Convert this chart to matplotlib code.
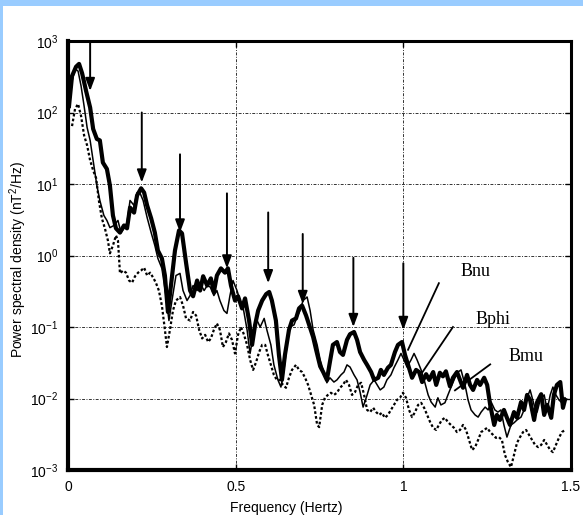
import matplotlib
matplotlib.use("Agg")
import matplotlib.pyplot as plt
import numpy as np
from matplotlib.patches import Rectangle
from matplotlib.ticker import FixedLocator, NullLocator, LogFormatterMathtext

plt.rcParams["font.family"] = ["Liberation Sans", "DejaVu Sans"]
plt.rcParams["mathtext.fontset"] = "custom"
plt.rcParams["mathtext.rm"] = "Liberation Sans"
plt.rcParams["mathtext.it"] = "Liberation Sans:italic"

# frequency (Hz) and log10 of power spectral density (nT^2/Hz)
bnu_freq = [0.003, 0.012, 0.024, 0.033, 0.042, 0.054, 0.066, 0.075, 0.086, 0.095,
            0.104, 0.116, 0.125, 0.134, 0.143, 0.155, 0.167, 0.176, 0.185, 0.197,
            0.206, 0.218, 0.227, 0.236, 0.248, 0.259, 0.268, 0.280, 0.289, 0.298,
            0.307, 0.319, 0.331, 0.340, 0.352, 0.364, 0.373, 0.385, 0.394, 0.403,
            0.415, 0.426, 0.435, 0.444, 0.456, 0.468, 0.477, 0.486, 0.498, 0.507,
            0.519, 0.528, 0.540, 0.549, 0.558, 0.567, 0.579, 0.591, 0.600, 0.608,
            0.620, 0.629, 0.638, 0.647, 0.659, 0.668, 0.680, 0.689, 0.698, 0.710,
            0.719, 0.731, 0.740, 0.752, 0.761, 0.772, 0.781, 0.790, 0.802, 0.811,
            0.820, 0.832, 0.841, 0.853, 0.862, 0.871, 0.883, 0.892, 0.904, 0.913,
            0.925, 0.933, 0.942, 0.954, 0.963, 0.975, 0.984, 0.996, 1.005, 1.017,
            1.026, 1.038, 1.047, 1.056, 1.068, 1.077, 1.089, 1.098, 1.109, 1.118,
            1.127, 1.139, 1.148, 1.160, 1.169, 1.178, 1.190, 1.199, 1.208, 1.220,
            1.229, 1.241, 1.250, 1.259, 1.271, 1.279, 1.288, 1.300, 1.309, 1.318,
            1.330, 1.339, 1.351, 1.360, 1.369, 1.378, 1.390, 1.399, 1.411, 1.420,
            1.429, 1.441, 1.449, 1.458, 1.468, 1.476, 1.482]
bnu_log = [2.09, 2.51, 2.64, 2.68, 2.55, 2.30, 2.07, 1.77, 1.63, 1.61,
           1.30, 1.21, 0.98, 0.56, 0.38, 0.32, 0.42, 0.38, 0.67, 0.60,
           0.84, 0.94, 0.88, 0.70, 0.52, 0.32, 0.07, -0.04, -0.28, -0.79,
           -0.42, 0.07, 0.35, 0.31, -0.10, -0.49, -0.57, -0.35, -0.49, -0.29,
           -0.42, -0.32, -0.51, -0.28, -0.18, -0.24, -0.18, -0.42, -0.63, -0.57,
           -0.74, -0.60, -0.91, -1.25, -0.97, -0.77, -0.63, -0.54, -0.51, -0.63,
           -0.91, -1.39, -1.74, -1.39, -1.04, -0.91, -0.88, -0.74, -0.70, -0.84,
           -0.97, -1.14, -1.32, -1.55, -1.63, -1.74, -1.49, -1.25, -1.21, -1.35,
           -1.39, -1.18, -1.10, -1.07, -1.18, -1.35, -1.46, -1.53, -1.63, -1.74,
           -1.71, -1.60, -1.67, -1.57, -1.53, -1.35, -1.25, -1.21, -1.39, -1.57,
           -1.71, -1.60, -1.63, -1.77, -1.66, -1.74, -1.63, -1.81, -1.64, -1.69,
           -1.62, -1.83, -1.71, -1.63, -1.74, -1.85, -1.67, -1.81, -1.88, -1.74,
           -1.81, -1.71, -1.81, -2.09, -2.37, -2.23, -2.30, -2.16, -2.27, -2.37,
           -2.19, -2.27, -2.05, -2.16, -1.95, -2.02, -2.30, -2.05, -1.94, -2.23,
           -2.09, -2.27, -1.95, -1.81, -1.77, -2.13, -2.02]

bphi_freq = [0.003, 0.012, 0.021, 0.030, 0.039, 0.048, 0.057, 0.066, 0.075, 0.086,
             0.095, 0.107, 0.116, 0.125, 0.137, 0.149, 0.158, 0.167, 0.176, 0.185,
             0.197, 0.206, 0.215, 0.224, 0.236, 0.248, 0.259, 0.268, 0.280, 0.292,
             0.301, 0.310, 0.322, 0.334, 0.343, 0.355, 0.364, 0.373, 0.385, 0.394,
             0.406, 0.415, 0.424, 0.435, 0.444, 0.453, 0.465, 0.474, 0.483, 0.492,
             0.504, 0.513, 0.522, 0.534, 0.543, 0.555, 0.564, 0.573, 0.585, 0.593,
             0.605, 0.614, 0.626, 0.635, 0.644, 0.653, 0.662, 0.674, 0.683, 0.692,
             0.701, 0.713, 0.722, 0.731, 0.743, 0.752, 0.761, 0.772, 0.781, 0.793,
             0.802, 0.814, 0.823, 0.832, 0.841, 0.853, 0.862, 0.871, 0.880, 0.892,
             0.901, 0.913, 0.922, 0.931, 0.942, 0.951, 0.963, 0.972, 0.984, 0.993,
             1.002, 1.011, 1.023, 1.032, 1.041, 1.053, 1.062, 1.074, 1.083, 1.095,
             1.103, 1.112, 1.124, 1.133, 1.145, 1.154, 1.163, 1.172, 1.184, 1.193,
             1.202, 1.214, 1.223, 1.232, 1.244, 1.253, 1.262, 1.273, 1.282, 1.291,
             1.300, 1.309, 1.321, 1.330, 1.339, 1.351, 1.360, 1.369, 1.378, 1.390,
             1.399, 1.408, 1.420, 1.429, 1.438, 1.446, 1.455, 1.464, 1.473, 1.482]
bphi_log = [2.02, 2.44, 2.61, 2.58, 2.37, 2.09, 1.79, 1.61, 1.33, 0.98,
            0.77, 0.56, 0.49, 0.39, 0.42, 0.49, 0.32, 0.38, 0.46, 0.77,
            0.70, 0.88, 0.87, 0.77, 0.53, 0.32, 0.14, -0.04, -0.18, -0.56,
            -0.91, -0.63, -0.28, -0.25, -0.49, -0.63, -0.56, -0.42, -0.49, -0.39,
            -0.49, -0.42, -0.44, -0.56, -0.49, -0.63, -0.77, -0.81, -0.56, -0.35,
            -0.49, -0.63, -0.72, -1.04, -1.37, -1.04, -0.91, -1.00, -0.88, -1.04,
            -1.25, -1.53, -1.74, -1.84, -1.60, -1.25, -1.00, -0.97, -0.86, -0.77,
            -0.63, -0.58, -0.77, -1.04, -1.25, -1.46, -1.60, -1.78, -1.71, -1.77,
            -1.74, -1.67, -1.63, -1.53, -1.56, -1.67, -1.74, -1.91, -2.12, -1.95,
            -1.81, -1.74, -1.81, -1.88, -1.84, -1.74, -1.67, -1.57, -1.46, -1.37,
            -1.46, -1.56, -1.46, -1.37, -1.46, -1.60, -1.74, -1.95, -2.05, -2.12,
            -1.99, -2.09, -2.06, -1.95, -1.81, -1.71, -1.63, -1.60, -1.81, -2.02,
            -2.16, -2.23, -2.26, -2.19, -2.12, -2.16, -2.05, -2.16, -2.19, -2.16,
            -2.37, -2.54, -2.37, -2.34, -2.30, -2.26, -2.16, -1.99, -1.88, -2.09,
            -2.19, -2.02, -1.95, -2.16, -1.95, -1.84, -1.95, -2.02, -2.06, -1.99]

bmu_freq = [0.012, 0.021, 0.030, 0.039, 0.048, 0.057, 0.066, 0.075, 0.084, 0.092,
            0.101, 0.110, 0.119, 0.125, 0.134, 0.143, 0.149, 0.155, 0.164, 0.173,
            0.182, 0.191, 0.200, 0.209, 0.218, 0.227, 0.236, 0.245, 0.254, 0.262,
            0.271, 0.280, 0.289, 0.295, 0.304, 0.313, 0.322, 0.334, 0.343, 0.352,
            0.364, 0.373, 0.382, 0.391, 0.400, 0.409, 0.418, 0.426, 0.435, 0.444,
            0.453, 0.462, 0.471, 0.480, 0.489, 0.498, 0.507, 0.516, 0.525, 0.534,
            0.543, 0.552, 0.561, 0.570, 0.579, 0.588, 0.596, 0.605, 0.614, 0.623,
            0.632, 0.641, 0.650, 0.659, 0.668, 0.680, 0.689, 0.698, 0.707, 0.716,
            0.725, 0.734, 0.743, 0.749, 0.758, 0.766, 0.775, 0.784, 0.793, 0.802,
            0.811, 0.820, 0.829, 0.838, 0.847, 0.856, 0.865, 0.874, 0.883, 0.892,
            0.901, 0.910, 0.919, 0.928, 0.936, 0.945, 0.954, 0.963, 0.972, 0.981,
            0.990, 0.999, 1.008, 1.017, 1.026, 1.035, 1.044, 1.053, 1.062, 1.071,
            1.080, 1.089, 1.098, 1.106, 1.115, 1.124, 1.133, 1.142, 1.151, 1.160,
            1.169, 1.178, 1.187, 1.196, 1.205, 1.214, 1.223, 1.232, 1.241, 1.250,
            1.259, 1.268, 1.276, 1.285, 1.294, 1.303, 1.312, 1.321, 1.330, 1.339,
            1.348, 1.357, 1.366, 1.375, 1.384, 1.393, 1.402, 1.411, 1.420, 1.429,
            1.438, 1.446, 1.455, 1.464, 1.473, 1.482]
bmu_log = [1.81, 2.05, 2.12, 1.95, 1.68, 1.54, 1.33, 1.19, 1.08, 0.77,
           0.52, 0.38, 0.21, 0.03, 0.14, 0.28, 0.21, -0.25, -0.21, -0.24,
           -0.35, -0.38, -0.29, -0.24, -0.21, -0.17, -0.28, -0.24, -0.31, -0.38,
           -0.49, -0.70, -1.04, -1.28, -1.04, -0.77, -0.63, -0.58, -0.70, -0.88,
           -0.91, -0.79, -0.84, -1.04, -1.16, -1.11, -1.21, -1.16, -1.04, -0.95,
           -1.04, -1.28, -1.21, -1.09, -1.18, -1.37, -1.11, -1.00, -1.11, -1.25,
           -1.46, -1.60, -1.49, -1.35, -1.25, -1.25, -1.39, -1.53, -1.67, -1.74,
           -1.74, -1.81, -1.85, -1.71, -1.60, -1.53, -1.60, -1.63, -1.71, -1.81,
           -1.95, -2.09, -2.37, -2.40, -2.09, -1.99, -1.95, -1.92, -1.95, -1.92,
           -1.85, -1.81, -1.74, -1.81, -1.95, -1.91, -1.81, -1.78, -1.95, -2.16,
           -2.19, -2.13, -2.19, -2.23, -2.20, -2.27, -2.23, -2.16, -2.09, -2.02,
           -1.99, -1.92, -1.99, -2.16, -2.26, -2.19, -2.09, -2.06, -2.13, -2.23,
           -2.33, -2.41, -2.44, -2.37, -2.30, -2.27, -2.33, -2.37, -2.41, -2.47,
           -2.44, -2.37, -2.44, -2.58, -2.72, -2.68, -2.58, -2.47, -2.44, -2.41,
           -2.47, -2.51, -2.55, -2.54, -2.58, -2.79, -2.89, -2.96, -2.79, -2.62,
           -2.54, -2.47, -2.44, -2.51, -2.58, -2.65, -2.68, -2.65, -2.58, -2.65,
           -2.72, -2.75, -2.65, -2.55, -2.47, -2.44]

# downward arrows marking the harmonic peaks: frequency, tail and tip (PSD)
arrow_freq = [0.066, 0.220, 0.334, 0.474, 0.597, 0.700, 0.851, 1.000]
arrow_top = [1000, 100, 26, 7.4, 4.0, 2.0, 0.93, 0.78]
arrow_tip = [200, 10.5, 2.1, 0.66, 0.41, 0.21, 0.10, 0.091]

# curve labels with leader lines
label_names = ["Bnu", "Bphi", "Bmu"]
label_x = [1.214, 1.268, 1.366]
label_y = [0.60, 0.129, 0.039]
leader_start_x = [1.106, 1.148, 1.259]
leader_start_y = [0.41, 0.10, 0.030]
leader_end_x = [1.014, 1.056, 1.154]
leader_end_y = [0.048, 0.023, 0.013]

fig = plt.figure(figsize=(5.83, 5.15), dpi=100)
fig.patches.append(Rectangle((0, 1 - 6 / 515), 1, 6 / 515, transform=fig.transFigure,
                             facecolor="#99ccff", edgecolor="none", zorder=0))
fig.patches.append(Rectangle((0, 0), 2.5 / 583, 1, transform=fig.transFigure,
                             facecolor="#99ccff", edgecolor="none", zorder=0))

ax = fig.add_axes([68 / 583, 45 / 515, 503 / 583, 429 / 515])
ax.set_yscale("log")
ax.set_xlim(0, 1.5)
ax.set_ylim(1e-3, 1e3)

ax.plot(bmu_freq, 10.0 ** np.array(bmu_log), color="black", lw=1.6,
        linestyle=(0, (1.2, 1.0)), zorder=3)
ax.plot(bphi_freq, 10.0 ** np.array(bphi_log), color="black", lw=1.1, zorder=4)
ax.plot(bnu_freq, 10.0 ** np.array(bnu_log), color="black", lw=3.0, zorder=5)

for f, top, tip in zip(arrow_freq, arrow_top, arrow_tip):
    ax.annotate("", xy=(f, tip), xytext=(f, top),
                arrowprops=dict(arrowstyle="-|>,head_length=0.75,head_width=0.28",
                                color="black", lw=1.4, shrinkA=0, shrinkB=0),
                zorder=6)

for name, tx, ty, sx, sy, ex, ey in zip(label_names, label_x, label_y,
                                        leader_start_x, leader_start_y,
                                        leader_end_x, leader_end_y):
    ax.text(tx, ty, name, family=["Liberation Serif", "DejaVu Serif"], fontsize=13,
            ha="center", va="center", zorder=7)
    ax.plot([sx, ex], [sy, ey], color="black", lw=1.3, zorder=7)

ax.xaxis.set_major_locator(FixedLocator([0, 0.5, 1, 1.5]))
ax.set_xticklabels(["0", "0.5", "1", "1.5"])
ax.yaxis.set_major_locator(FixedLocator([1e-3, 1e-2, 1e-1, 1e0, 1e1, 1e2, 1e3]))
ax.yaxis.set_major_formatter(LogFormatterMathtext())
ax.yaxis.set_minor_locator(NullLocator())
ax.tick_params(direction="in", length=4, width=1, top=True, right=True,
               labelsize=10, pad=7)

ax.grid(True, color="#333333", lw=0.7, linestyle=(0, (3, 1.5, 1, 1.5)))
for side in ["left", "bottom"]:
    ax.spines[side].set_linewidth(3.0)
for side in ["top", "right"]:
    ax.spines[side].set_linewidth(2.2)

ax.set_xlabel("Frequency (Hertz)", fontsize=10)
ax.xaxis.set_label_coords((286 - 68) / 503, -0.072)
ax.set_ylabel(r"Power spectral density (nT$^2$/Hz)", fontsize=10)
ax.yaxis.set_label_coords(-0.078, 0.49)

fig.savefig("out.png", dpi=100)
